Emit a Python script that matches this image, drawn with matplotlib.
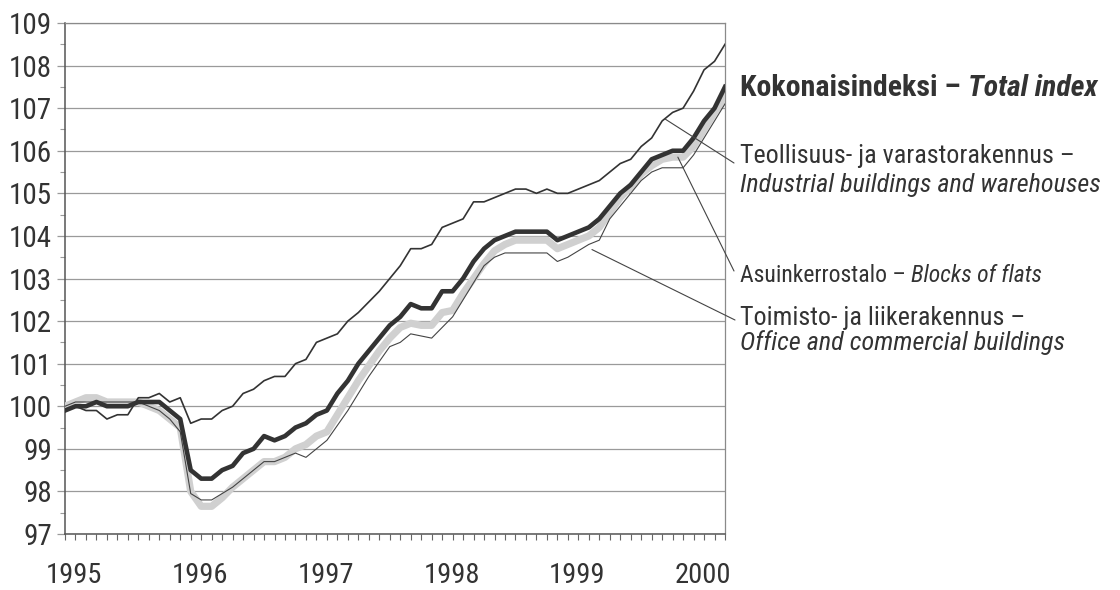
import numpy as np
import matplotlib
matplotlib.use("Agg")
import matplotlib.pyplot as plt
from matplotlib import font_manager as fm

names = {f.name for f in fm.fontManager.ttflist}
COND = 'Roboto Condensed' if 'Roboto Condensed' in names else 'Liberation Sans Narrow' if 'Liberation Sans Narrow' in names else 'Liberation Sans'
plt.rcParams['font.family'] = [COND, 'DejaVu Sans']

# ---- data (monthly index, 1995M01 .. 2000M04) ----
years = [1995, 1996, 1997, 1998, 1999, 2000]
y_ticks = list(range(97, 110))

total = [99.9, 100.0, 100.0, 100.1, 100.0, 100.0, 100.0, 100.1, 100.1, 100.1, 99.9, 99.7,
         98.5, 98.3, 98.3, 98.5, 98.6, 98.9, 99.0, 99.3, 99.2, 99.3, 99.5, 99.6,
         99.8, 99.9, 100.3, 100.6, 101.0, 101.3, 101.6, 101.9, 102.1, 102.4, 102.3, 102.3,
         102.7, 102.7, 103.0, 103.4, 103.7, 103.9, 104.0, 104.1, 104.1, 104.1, 104.1, 103.9,
         104.0, 104.1, 104.2, 104.4, 104.7, 105.0, 105.2, 105.5, 105.8, 105.9, 106.0, 106.0,
         106.3, 106.7, 107.0, 107.5]

industrial = [99.9, 100.0, 99.9, 99.9, 99.7, 99.8, 99.8, 100.2, 100.2, 100.3, 100.1, 100.2,
              99.6, 99.7, 99.7, 99.9, 100.0, 100.3, 100.4, 100.6, 100.7, 100.7, 101.0, 101.1,
              101.5, 101.6, 101.7, 102.0, 102.2, 102.45, 102.7, 103.0, 103.3, 103.7, 103.7, 103.8,
              104.2, 104.3, 104.4, 104.8, 104.8, 104.9, 105.0, 105.1, 105.1, 105.0, 105.1, 105.0,
              105.0, 105.1, 105.2, 105.3, 105.5, 105.7, 105.8, 106.1, 106.3, 106.7, 106.9, 107.0,
              107.4, 107.9, 108.1, 108.5]

flats = [100.0, 100.1, 100.2, 100.2, 100.1, 100.1, 100.1, 100.1, 100.0, 99.9, 99.7, 99.5,
         98.0, 97.65, 97.65, 97.85, 98.1, 98.3, 98.5, 98.7, 98.7, 98.8, 99.0, 99.1,
         99.3, 99.4, 99.8, 100.2, 100.6, 100.95, 101.3, 101.6, 101.85, 101.95, 101.9, 101.9,
         102.2, 102.25, 102.65, 103.0, 103.35, 103.65, 103.8, 103.9, 103.9, 103.9, 103.9, 103.7,
         103.8, 103.9, 104.0, 104.2, 104.55, 104.9, 105.15, 105.45, 105.65, 105.8, 105.85, 105.85,
         106.1, 106.5, 106.9, 107.25]

office = [100.0, 100.1, 100.1, 100.1, 100.1, 100.1, 100.1, 100.1, 100.0, 99.9, 99.7, 99.4,
          97.95, 97.8, 97.8, 97.95, 98.1, 98.3, 98.5, 98.7, 98.7, 98.8, 98.9, 98.8,
          99.0, 99.2, 99.55, 99.9, 100.3, 100.7, 101.05, 101.4, 101.5, 101.7, 101.65, 101.6,
          101.85, 102.1, 102.5, 102.9, 103.3, 103.5, 103.6, 103.6, 103.6, 103.6, 103.6, 103.4,
          103.5, 103.65, 103.8, 103.9, 104.4, 104.7, 105.0, 105.3, 105.5, 105.6, 105.6, 105.6,
          105.9, 106.3, 106.7, 107.1]

label_total = ('Kokonaisindeksi – ', 'Total index')
label_industrial = ('Teollisuus- ja varastorakennus –', 'Industrial buildings and warehouses')
label_flats = ('Asuinkerrostalo – ', 'Blocks of flats')
label_office = ('Toimisto- ja liikerakennus –', 'Office and commercial buildings')

# ---- figure ----
W, H = 1120, 590
fig = plt.figure(figsize=(W / 100, H / 100), dpi=100)
ax = fig.add_axes([65 / W, 1 - 534 / H, 660 / W, 511 / H])

x = np.arange(len(total))
TXT = '#333333'
ax.plot(x, flats, color='#d0d0d0', lw=5.2, solid_joinstyle='round', zorder=3)
ax.plot(x, office, color='#444444', lw=0.8, zorder=4)
ax.plot(x, total, color='#333333', lw=3.3, solid_joinstyle='round', zorder=5)
ax.plot(x, industrial, color='#333333', lw=1.2, zorder=6)

ax.set_xlim(0, len(total) - 1)
ax.set_ylim(97, 109)

ax.set_yticks(y_ticks)
ax.set_yticklabels([str(v) for v in y_ticks])
ax.set_yticks(np.arange(97.5, 109, 1.0), minor=True)
ax.grid(axis='y', which='major', color='#9a9a9a', lw=0.9, zorder=1)
ax.tick_params(axis='y', which='major', length=6, width=0.9, color='#9a9a9a', pad=3.5,
               labelsize=21, labelcolor=TXT)
ax.tick_params(axis='y', which='minor', length=3.5, width=0.8, color='#9a9a9a')

year_pos = [12 * k + 0.9 for k in range(len(years))]
ax.set_xticks(year_pos)
ax.set_xticklabels([str(y) for y in years])
ax.set_xticks(np.arange(0, len(total)), minor=True)
ax.tick_params(axis='x', which='major', length=0, pad=20, labelsize=20.5, labelcolor=TXT)
ax.tick_params(axis='x', which='minor', length=4.5, width=0.8, color='#666666')

for s in ['top', 'right']:
    ax.spines[s].set_color('#8a8a8a')
    ax.spines[s].set_linewidth(0.9)
for s in ['left', 'bottom']:
    ax.spines[s].set_color('#555555')
    ax.spines[s].set_linewidth(1.1)

# ---- labels at right ----
def fx(px):
    return px / W

def fy(py):
    return 1 - py / H

t1 = fig.text(fx(740), fy(96), label_total[0], fontsize=21.5, fontweight='bold', color=TXT,
              va='baseline', ha='left')
fig.canvas.draw()
bb = t1.get_window_extent()
fig.text(bb.x1 / W, fy(96), label_total[1], fontsize=21.5, fontweight='bold', style='italic',
         color=TXT, va='baseline', ha='left')

fig.text(fx(740), fy(163), label_industrial[0], fontsize=18.8, color=TXT, va='baseline')
fig.text(fx(740), fy(192), label_industrial[1], fontsize=18.8, style='italic', color=TXT, va='baseline')

t3 = fig.text(fx(740), fy(282), label_flats[0], fontsize=17, color=TXT, va='baseline')
fig.canvas.draw()
bb = t3.get_window_extent()
fig.text(bb.x1 / W, fy(282), label_flats[1], fontsize=17, style='italic', color=TXT, va='baseline')

fig.text(fx(740), fy(325), label_office[0], fontsize=18.8, color=TXT, va='baseline')
fig.text(fx(740), fy(350), label_office[1], fontsize=18.8, style='italic', color=TXT, va='baseline')

# ---- leader lines ----
lead = dict(arrowstyle='-', color='#444444', lw=0.8, shrinkA=0, shrinkB=0)
for xi, series, dy, end in [(57.25, industrial, 0.0, (734, 163)),
                            (58.5, flats, 0.0, (734, 271)),
                            (50.3, office, -0.15, (735, 320))]:
    yv = float(np.interp(xi, x, series)) + dy
    ax.annotate('', xy=(xi, yv), xycoords='data', xytext=(fx(end[0]), fy(end[1])),
                textcoords='figure fraction', arrowprops=lead, annotation_clip=False, zorder=7)

fig.savefig('out.png', dpi=100, facecolor='white')
